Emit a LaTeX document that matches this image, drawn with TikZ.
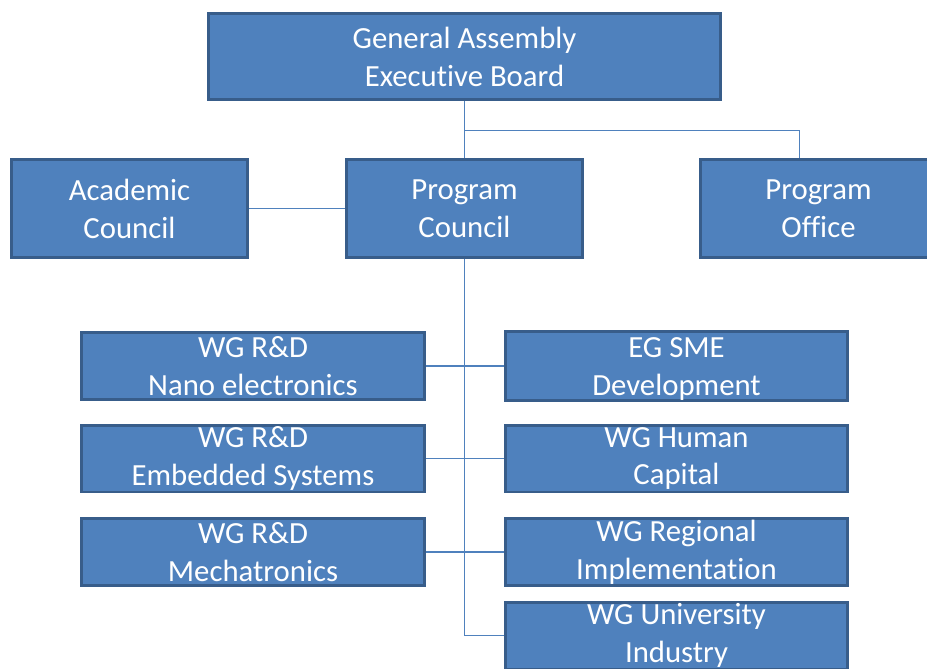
\documentclass[tikz,border=0pt]{standalone}
\usepackage{fontspec}
\setmainfont{Carlito}[Ligatures={NoCommon,NoContextual}, RawFeature={-liga;-clig;-calt}]
\usetikzlibrary{calc}
\definecolor{boxfill}{HTML}{4F81BD}
\definecolor{boxline}{HTML}{385D8A}

\begin{document}
\begin{tikzpicture}[x=0.02cm, y=-0.02cm,
        box/.style={draw=boxline, fill=boxfill, line width=1.7pt, text=white, align=center,
            inner sep=0pt, font=\fontsize{17.5}{21.6}\selectfont},
        bigbox/.style={box, minimum width=4.72cm, minimum height=1.96cm},
        wgbox/.style={box, minimum width=6.86cm, minimum height=1.34cm},
        link/.style={draw=boxfill, line width=0.6pt}]
        \useasboundingbox (0,0) rectangle (927,669);
        \clip (0,0) rectangle (927,669);

        \node[box, minimum width=10.24cm, minimum height=1.72cm] (ga) at (464.5,56.5) {General Assembly\\Executive Board};
        \node[bigbox] (ac) at (129.5,208.5) {Academic\\Council};
        \node[bigbox] (pc) at (464.5,208.5) {Program\\Council};
        \node[bigbox] (po) at (818.5,208.5) {Program\\Office};

        \node[wgbox] (nano) at (253,366) {WG R\&D\\Nano electronics};
        \node[wgbox] (emb) at (253,458.5) {WG R\&D\\Embedded Systems};
        \node[wgbox] (mech) at (253,552) {WG R\&D\\Mechatronics};
        \node[wgbox] (sme) at (676.5,366) {EG SME\strut\\Development};
        \node[wgbox] (hc) at (676.5,458.5) {WG Human\\Capital};
        \node[wgbox] (reg) at (676.5,552) {WG Regional\\Implementation};
        \node[wgbox] (uni) at (676.5,635.5) {WG University\\Industry};

        \coordinate (fork) at (464.5,130.5);
        \coordinate (spine) at (464.5,635.5);

        \draw[link] (ga.south)--(pc.north);
        \draw[link] (fork) -| ([xshift=-0.38cm]po.north);
        \draw[link] (ac.east)--(pc.west);
        \draw[link] (pc.south)--(spine);
        \draw[link] (nano.east)--(sme.west);
        \draw[link] (emb.east)--(hc.west);
        \draw[link] (mech.east)--(reg.west);
        \draw[link] (spine)--(uni.west);
    \end{tikzpicture}
\end{document}
